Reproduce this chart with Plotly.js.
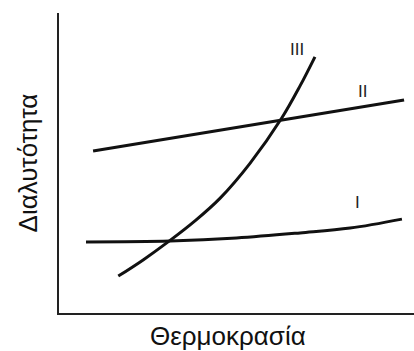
<!DOCTYPE html>
<html>
<head>
<meta charset="utf-8">
<script src="https://cdn.plot.ly/plotly-3.0.1.min.js"></script>
<style>html,body{margin:0;padding:0;background:#fff;}#chart{width:414px;height:351px;}</style>
</head>
<body>
<div id="chart"></div>
<script>
// Curve I
const xI = [7.6, 31.3, 50, 67.9, 82, 96.6];
const yI = [23.7, 24, 25, 26.7, 28.3, 31.3];
// Curve II
const xII = [9.6, 97.2];
const yII = [54, 71];
// Curve III
const xIII = [16.7, 23.7, 31.3, 38.3, 45.4, 53.8, 62.7, 67.9, 72.1];
const yIII = [12.3, 17.7, 24.2, 30.7, 38.3, 49.9, 64.9, 75.7, 85.4];
// Labels
const labelText = ["I", "II", "III"];
const labelX = [84.2, 85.4, 67];
const labelY = [36.7, 73.7, 87.7];
const xTitle = 'Θερμοκρασία';
const yTitle = 'Διαλυτότητα';

const lineStyle = {color: '#111', width: 3, shape: 'spline', smoothing: 1};
const traces = [
  {x: xI, y: yI, mode: 'lines', line: lineStyle, hoverinfo: 'skip'},
  {x: xII, y: yII, mode: 'lines', line: lineStyle, hoverinfo: 'skip'},
  {x: xIII, y: yIII, mode: 'lines', line: lineStyle, hoverinfo: 'skip'}
];
const titleFont = {family: 'Liberation Sans, Arial, sans-serif', size: 26, color: '#111'};
const annotations = labelText.map((t, i) => ({
  x: labelX[i], y: labelY[i], xref: 'x', yref: 'y', text: t, showarrow: false,
  font: {family: 'Liberation Sans, Arial, sans-serif', size: 17, color: '#222'}
}));
annotations.push({x: 0.476, y: -0.077, xref: 'paper', yref: 'paper', text: xTitle,
  showarrow: false, xanchor: 'center', yanchor: 'middle', borderpad: 0, font: titleFont});
const layout = {
  width: 414, height: 351,
  margin: {l: 59, r: 0, t: 13, b: 38},
  paper_bgcolor: '#fff', plot_bgcolor: '#fff',
  showlegend: false,
  xaxis: {range: [0, 100], showgrid: false, zeroline: false, showticklabels: false, ticks: '',
    showline: true, linecolor: '#222', linewidth: 2, fixedrange: true},
  yaxis: {range: [0, 100], showgrid: false, zeroline: false, showticklabels: false, ticks: '',
    showline: true, linecolor: '#222', linewidth: 2, fixedrange: true,
    title: {text: yTitle, standoff: 12, font: titleFont}},
  annotations: annotations
};
Plotly.newPlot('chart', traces, layout, {displayModeBar: false, staticPlot: true});
</script>
</body>
</html>
